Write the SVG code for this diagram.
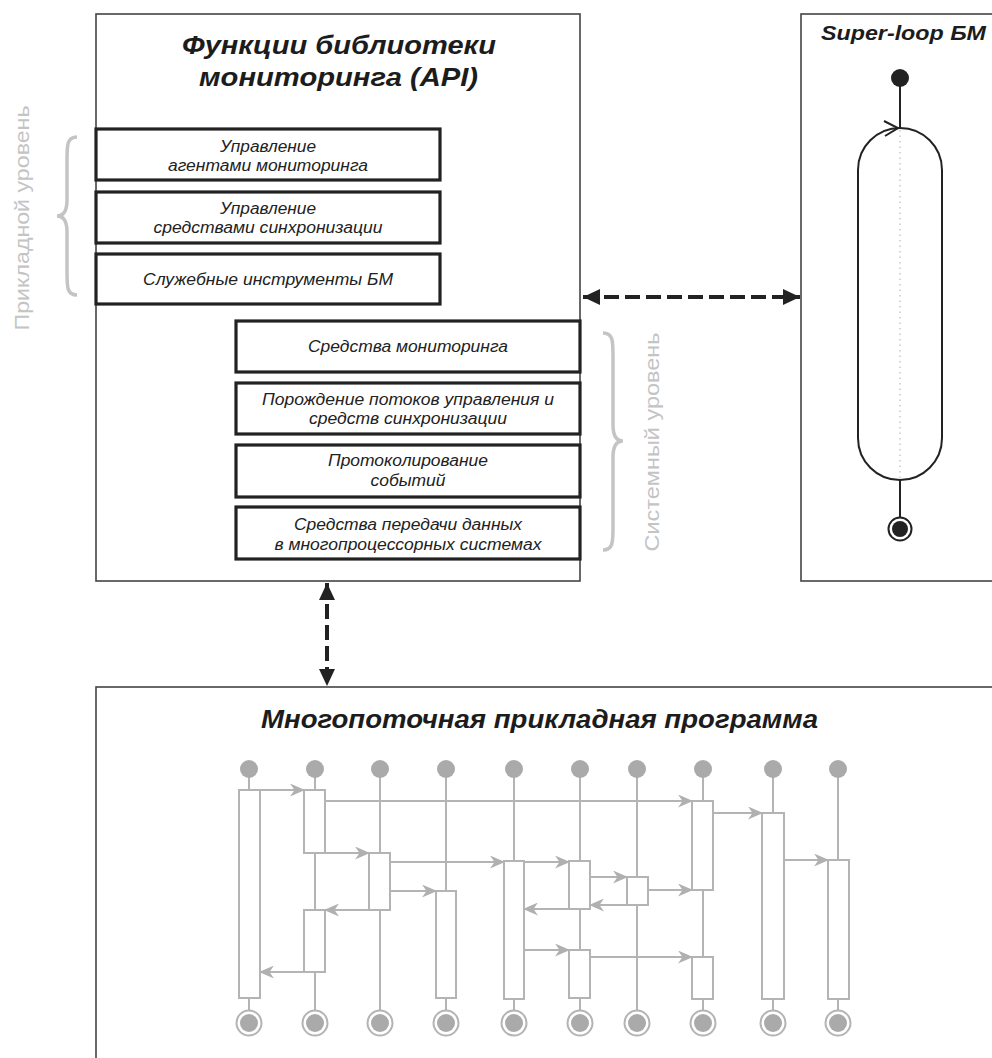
<svg xmlns="http://www.w3.org/2000/svg" width="992" height="1058" viewBox="0 0 992 1058">
<style>
.frame{fill:#fff;stroke:#444;stroke-width:1.6}
.fn{fill:#fff;stroke:#222;stroke-width:3.2}
.t{font-family:"Liberation Sans",Arial,sans-serif;font-style:italic;font-size:16px;fill:#222;text-anchor:middle}
.h{font-family:"Liberation Sans",Arial,sans-serif;font-style:italic;font-weight:bold;fill:#1c1c1c;text-anchor:middle}
.lvl{font-family:"Liberation Sans",Arial,sans-serif;font-size:21px;fill:#c4c4c4;text-anchor:middle}
.brace{fill:none;stroke:#c4c4c4;stroke-width:3.5}
.dash{stroke:#222;stroke-width:4;stroke-dasharray:15 6;fill:none}
.ll{stroke:#b4b4b4;stroke-width:2;fill:none}
.bar{fill:#fff;stroke:#b4b4b4;stroke-width:2}
.msg{stroke:#b4b4b4;stroke-width:2;fill:none;marker-end:url(#ga)}
.st{fill:#aaa}
.sl{stroke:#222;stroke-width:2;fill:none}
</style>
<defs>
<marker id="ga" markerUnits="userSpaceOnUse" markerWidth="16" markerHeight="13" viewBox="0 0 16 13" refX="15" refY="6.5" orient="auto">
<path d="M0,0 L15,6.5 L0,13 L4.5,6.5 Z" fill="#b0b0b0"/>
</marker>
<marker id="ba" markerUnits="userSpaceOnUse" markerWidth="18" markerHeight="16" viewBox="0 0 18 16" refX="17" refY="8" orient="auto-start-reverse">
<path d="M0,0 L17,8 L0,16 Z" fill="#222"/>
</marker>
</defs>

<!-- level labels -->
<g id="level-app">
<text class="lvl" transform="translate(29,218) rotate(-90)" textLength="225" lengthAdjust="spacingAndGlyphs">Прикладной уровень</text>
<path class="brace" d="M77,137 C67,137 67,145 67,160 L67,200 C67,210 64,216 57,216 C64,216 67,222 67,232 L67,272 C67,287 67,295 77,295"/>
</g>
<g id="level-sys">
<text class="lvl" transform="translate(659,442) rotate(-90)" textLength="219" lengthAdjust="spacingAndGlyphs">Системный уровень</text>
<path class="brace" d="M603,333 C613,333 613,341 613,356 L613,425 C613,435 616,441 623,441 C616,441 613,447 613,457 L613,527 C613,542 613,550 603,550"/>
</g>

<!-- main API box -->
<g id="api">
<rect class="frame" x="96" y="14" width="484" height="567"/>
<text class="h" font-size="26" x="339" y="54" textLength="314" lengthAdjust="spacingAndGlyphs">Функции библиотеки</text>
<text class="h" font-size="26" x="338.5" y="86" textLength="279" lengthAdjust="spacingAndGlyphs">мониторинга (API)</text>
</g>
<g id="f1"><rect class="fn" x="96" y="129" width="344" height="51"/>
<text class="t" x="268" y="152" textLength="96" lengthAdjust="spacingAndGlyphs">Управление</text><text class="t" x="268" y="171" textLength="200" lengthAdjust="spacingAndGlyphs">агентами мониторинга</text></g>
<g id="f2"><rect class="fn" x="96" y="192" width="344" height="51"/>
<text class="t" x="268" y="214" textLength="96" lengthAdjust="spacingAndGlyphs">Управление</text><text class="t" x="268" y="233" textLength="229" lengthAdjust="spacingAndGlyphs">средствами синхронизации</text></g>
<g id="f3"><rect class="fn" x="96" y="254" width="344" height="50"/>
<text class="t" x="268" y="285" textLength="250" lengthAdjust="spacingAndGlyphs">Служебные инструменты БМ</text></g>
<g id="f4"><rect class="fn" x="236" y="321" width="344" height="51"/>
<text class="t" x="408" y="352" textLength="200" lengthAdjust="spacingAndGlyphs">Средства мониторинга</text></g>
<g id="f5"><rect class="fn" x="236" y="383" width="344" height="51"/>
<text class="t" x="408" y="405" textLength="292" lengthAdjust="spacingAndGlyphs">Порождение потоков управления и</text><text class="t" x="408" y="424" textLength="198" lengthAdjust="spacingAndGlyphs">средств синхронизации</text></g>
<g id="f6"><rect class="fn" x="236" y="445" width="344" height="52"/>
<text class="t" x="408" y="466" textLength="160" lengthAdjust="spacingAndGlyphs">Протоколирование</text><text class="t" x="408" y="486" textLength="75" lengthAdjust="spacingAndGlyphs">событий</text></g>
<g id="f7"><rect class="fn" x="236" y="507" width="344" height="52"/>
<text class="t" x="408" y="530" textLength="228" lengthAdjust="spacingAndGlyphs">Средства передачи данных</text><text class="t" x="408" y="550" textLength="267" lengthAdjust="spacingAndGlyphs">в многопроцессорных системах</text></g>

<!-- super-loop box -->
<g id="superloop">
<rect class="frame" x="801" y="14" width="220" height="567"/>
<text class="h" font-size="20" x="903.5" y="40" textLength="165" lengthAdjust="spacingAndGlyphs">Super-loop БМ</text>
<circle cx="900" cy="78" r="9" fill="#222"/>
<line class="sl" x1="900" y1="78" x2="900" y2="128"/>
<rect x="858" y="128" width="84" height="352" rx="42" ry="42" fill="#fff" stroke="#222" stroke-width="2"/>
<line x1="900" y1="130" x2="900" y2="478" stroke="#bbb" stroke-width="1.2" stroke-dasharray="1.5 4"/>
<polyline class="sl" points="884,121 898,128 885,136"/>
<line class="sl" x1="900" y1="480" x2="900" y2="518"/>
<circle cx="900" cy="529" r="11.5" fill="#fff" stroke="#222" stroke-width="2"/>
<circle cx="900" cy="529" r="8" fill="#222"/>
</g>

<!-- application box -->
<g id="app">
<rect class="frame" x="96" y="687" width="940" height="400"/>
<text class="h" font-size="26" x="539.5" y="728" textLength="557" lengthAdjust="spacingAndGlyphs">Многопоточная прикладная программа</text>
</g>

<!-- connectors between blocks -->
<g id="connectors">
<line class="dash" x1="583" y1="297" x2="800" y2="297" marker-start="url(#ba)" marker-end="url(#ba)"/>
<line class="dash" x1="327" y1="583" x2="327" y2="686" marker-start="url(#ba)" marker-end="url(#ba)"/>
</g>

<!-- threads -->
<g id="threads">
<g class="ll">
<line x1="249" y1="769" x2="249" y2="1023"/><line x1="315" y1="769" x2="315" y2="1023"/>
<line x1="380" y1="769" x2="380" y2="1023"/><line x1="446" y1="769" x2="446" y2="1023"/>
<line x1="514" y1="769" x2="514" y2="1023"/><line x1="580" y1="769" x2="580" y2="1023"/>
<line x1="637" y1="769" x2="637" y2="1023"/><line x1="703" y1="769" x2="703" y2="1023"/>
<line x1="773" y1="769" x2="773" y2="1023"/><line x1="838" y1="769" x2="838" y2="1023"/>
</g>
<g class="st">
<circle cx="249" cy="769" r="9"/><circle cx="315" cy="769" r="9"/><circle cx="380" cy="769" r="9"/>
<circle cx="446" cy="769" r="9"/><circle cx="514" cy="769" r="9"/><circle cx="580" cy="769" r="9"/>
<circle cx="637" cy="769" r="9"/><circle cx="703" cy="769" r="9"/><circle cx="773" cy="769" r="9"/>
<circle cx="838" cy="769" r="9"/>
</g>
<g fill="#fff" stroke="#b4b4b4" stroke-width="2">
<circle cx="249" cy="1023" r="12.5"/><circle cx="315" cy="1023" r="12.5"/><circle cx="380" cy="1023" r="12.5"/>
<circle cx="446" cy="1023" r="12.5"/><circle cx="514" cy="1023" r="12.5"/><circle cx="580" cy="1023" r="12.5"/>
<circle cx="637" cy="1023" r="12.5"/><circle cx="703" cy="1023" r="12.5"/><circle cx="773" cy="1023" r="12.5"/>
<circle cx="838" cy="1023" r="12.5"/>
</g>
<g class="st">
<circle cx="249" cy="1023" r="9"/><circle cx="315" cy="1023" r="9"/><circle cx="380" cy="1023" r="9"/>
<circle cx="446" cy="1023" r="9"/><circle cx="514" cy="1023" r="9"/><circle cx="580" cy="1023" r="9"/>
<circle cx="637" cy="1023" r="9"/><circle cx="703" cy="1023" r="9"/><circle cx="773" cy="1023" r="9"/>
<circle cx="838" cy="1023" r="9"/>
</g>
<g class="bar">
<rect x="239" y="790" width="21" height="208"/>
<rect x="304" y="790" width="21" height="63"/>
<rect x="304" y="910" width="21" height="62"/>
<rect x="369" y="853" width="21" height="57"/>
<rect x="436" y="891" width="20" height="107"/>
<rect x="504" y="861" width="20" height="138"/>
<rect x="569" y="861" width="21" height="48"/>
<rect x="569" y="950" width="21" height="48"/>
<rect x="627" y="877" width="21" height="28"/>
<rect x="692" y="801" width="21" height="89"/>
<rect x="692" y="957" width="21" height="42"/>
<rect x="762" y="813" width="22" height="186"/>
<rect x="828" y="860" width="21" height="139"/>
</g>
<g>
<line class="msg" x1="260" y1="790" x2="305" y2="790"/>
<line class="msg" x1="325" y1="801" x2="693" y2="801"/>
<line class="msg" x1="325" y1="853" x2="370" y2="853"/>
<line class="msg" x1="390" y1="862" x2="505" y2="862"/>
<line class="msg" x1="390" y1="891" x2="437" y2="891"/>
<line class="msg" x1="369" y1="910" x2="324" y2="910"/>
<line class="msg" x1="304" y1="972" x2="259" y2="972"/>
<line class="msg" x1="524" y1="862" x2="570" y2="862"/>
<line class="msg" x1="590" y1="877" x2="628" y2="877"/>
<line class="msg" x1="627" y1="905" x2="589" y2="905"/>
<line class="msg" x1="569" y1="909" x2="523" y2="909"/>
<line class="msg" x1="648" y1="890" x2="693" y2="890"/>
<line class="msg" x1="524" y1="950" x2="570" y2="950"/>
<line class="msg" x1="590" y1="957" x2="693" y2="957"/>
<line class="msg" x1="713" y1="813" x2="763" y2="813"/>
<line class="msg" x1="784" y1="860" x2="829" y2="860"/>
</g>
</g>
</svg>
